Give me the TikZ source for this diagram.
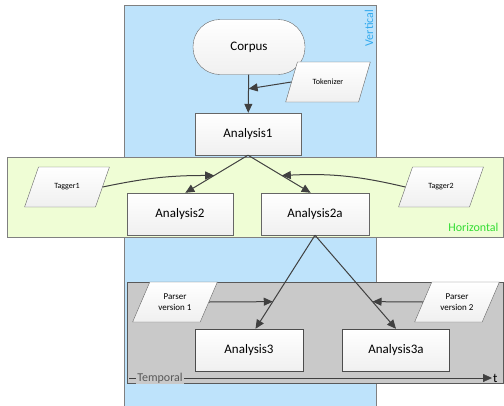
\documentclass[tikz,border=0pt]{standalone}
\usepackage{fontspec}
\setmainfont{Carlito}
\usepackage{xcolor}
\usetikzlibrary{shapes.geometric}
\usetikzlibrary{arrows.meta}
\usetikzlibrary{calc}
\usetikzlibrary{positioning}
\tikzset{>={Triangle[length=9pt,width=8pt]}}
\definecolor{bandblue}{HTML}{BEE3FB}
\definecolor{bandgreen}{HTML}{EFFDD5}
\definecolor{bandgray}{HTML}{C9C9C9}
\definecolor{linegray}{HTML}{404040}
\definecolor{txtblue}{HTML}{33AAEE}
\definecolor{txtgreen}{HTML}{33DD33}
\tikzset{
  stage/.style={draw=gray!80!black, top color=white, bottom color=gray!12,
    minimum width=106pt, minimum height=42pt, font=\fontsize{13}{15}\selectfont},
  tool/.style={trapezium, trapezium left angle=63, trapezium right angle=117,
    trapezium stretches=true,
    draw=gray!80!black, top color=white, bottom color=gray!12,
    minimum width=85pt, minimum height=40pt, inner xsep=1pt, align=center,
    font=\fontsize{8}{10}\selectfont},
  flow/.style={->, draw=linegray, line width=1pt},
}
\begin{document}
\begin{tikzpicture}[x=1pt,y=-1pt]
\useasboundingbox (0,0) rectangle (504,405);
% bands
\fill[bandblue, draw=gray] (124,5) rectangle (376,406);
\node[rotate=90, text=txtblue, font=\fontsize{12}{14}\selectfont] (vlabel) at (369,28) {Vertical};
\fill[bandgreen, draw=gray] (7,157) rectangle (503,237);
\node[text=txtgreen, anchor=east, font=\fontsize{12}{14}\selectfont] (hlabel) at (502,227) {Horizontal};
\fill[bandgray, draw=gray!70!black] (127,282) rectangle (503,383);
% nodes
\node[draw=gray!80!black, top color=white, bottom color=gray!12, rounded corners=27pt,
  minimum width=112pt, minimum height=55pt, font=\fontsize{13}{15}\selectfont] (corpus) at (249,47) {Corpus};
\node[tool] (tokenizer) at (328,82) {Tokenizer};
\node[stage] (analysis1) at (248,134) {Analysis1};
\node[tool] (tagger1) at (67,187) {Tagger1};
\node[tool] (tagger2) at (441,187) {Tagger2};
\node[stage] (analysis2) at (180,214) {Analysis2};
\node[stage, minimum width=108pt] (analysis2a) at (315,214) {Analysis2a};
\node[tool, font=\fontsize{9}{11}\selectfont] (parser1) at (175,302) {Parser\\version 1};
\node[tool, font=\fontsize{9}{11}\selectfont] (parser2) at (457,302) {Parser\\version 2};
\node[stage, draw=gray!60!black, fill=white, minimum width=108pt] (analysis3) at (249,350) {Analysis3};
\node[stage, draw=gray!60!black, fill=white, minimum width=107pt] (analysis3a) at (396,350) {Analysis3a};
% time axis
\coordinate (tstart) at (129,378);
\coordinate (tend) at (492,378);
\draw[->, draw=linegray] (tstart) -- (tend);
\node[fill=bandgray, inner sep=1pt, text=gray!70!black, font=\fontsize{12}{14}\selectfont] (temporal) at (160,378) {Temporal};
\node[anchor=west, inner sep=1pt, font=\fontsize{13}{15}\selectfont] (tlabel) at (tend) {t};
% main flow
\draw[flow] (corpus) -- (analysis1);
\draw[flow] (analysis1.south) -- ($(analysis2.north west)!0.55!(analysis2.north east)$) coordinate (a2top);
\draw[flow] (analysis1.south) -- ($(analysis2a.north west)!0.46!(analysis2a.north east)$) coordinate (a2atop);
\draw[flow] (analysis2a.south) -- ($(analysis3.north west)!0.56!(analysis3.north east)$) coordinate (a3top);
\draw[flow] (analysis2a.south) -- (analysis3a.north);
% tools
\coordinate (tokhit) at ($(corpus.south)!0.37!(analysis1.north)$);
\coordinate (t1hit) at ($(analysis1.south)!0.54!(a2top)$);
\coordinate (t2hit) at ($(analysis1.south)!0.54!(a2atop)$);
\coordinate (p1hit) at ($(analysis2a.south)!0.71!(a3top)$);
\coordinate (p2hit) at ($(analysis2a.south)!0.71!(analysis3a.north)$);
\draw[flow] (tokenizer.west) -- (tokhit);
\draw[flow] (tagger1.east) to[bend left=6] (t1hit);
\draw[flow] (tagger2.west) to[bend right=8] (t2hit);
\draw[flow] (parser1.east) -- (p1hit);
\draw[flow] (parser2.west) -- (p2hit);
\end{tikzpicture}
\end{document}
